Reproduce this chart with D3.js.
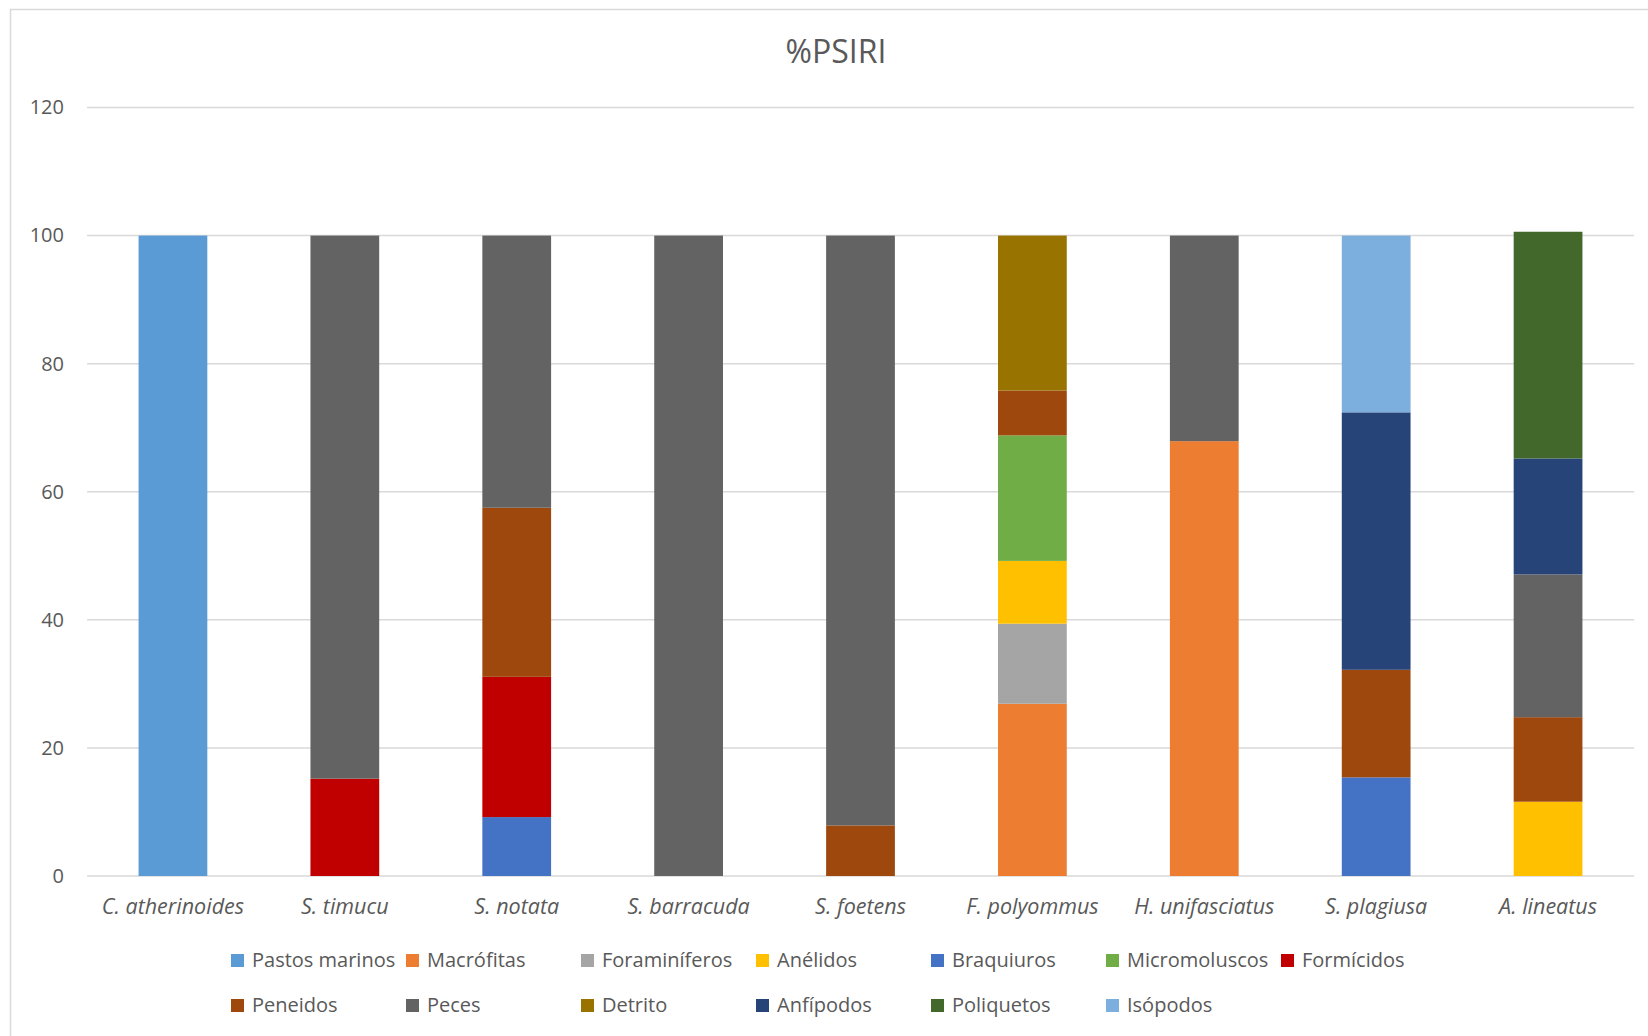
<!DOCTYPE html>
<html>
<head>
<meta charset="utf-8">
<script src="https://cdn.jsdelivr.net/npm/d3@7"></script>
<style>
  body { margin: 0; background: #fff; }
  svg { display: block; font-family: "Open Sans", Lato, sans-serif; }
</style>
</head>
<body>
<svg id="chart" width="1648" height="1036"></svg>
<script>
var species = ["C. atherinoides", "S. timucu", "S. notata", "S. barracuda", "S. foetens",
    "F. polyommus", "H. unifasciatus", "S. plagiusa", "A. lineatus"];

var preyNames = ["Pastos marinos", "Macrófitas", "Foraminíferos", "Anélidos", "Braquiuros",
    "Micromoluscos", "Formícidos", "Peneidos", "Peces", "Detrito", "Anfípodos",
    "Poliquetos", "Isópodos"];

var preyColors = ["#5b9bd5", "#ed7d31", "#a5a5a5", "#ffc000", "#4472c4", "#70ad47",
    "#c00000", "#9e480e", "#636363", "#997300", "#264478", "#43682b", "#7cafdd"];

// one array per prey item, values per species (same order as species)
var pastosMarinos = [100, 0, 0, 0, 0, 0, 0, 0, 0];
var macrofitas    = [0, 0, 0, 0, 0, 26.9, 67.9, 0, 0];
var foraminiferos = [0, 0, 0, 0, 0, 12.5, 0, 0, 0];
var anelidos      = [0, 0, 0, 0, 0, 9.8, 0, 0, 11.6];
var braquiuros    = [0, 0, 9.2, 0, 0, 0, 0, 15.4, 0];
var micromoluscos = [0, 0, 0, 0, 0, 19.6, 0, 0, 0];
var formicidos    = [0, 15.2, 21.9, 0, 0, 0, 0, 0, 0];
var peneidos      = [0, 0, 26.4, 0, 7.9, 7.0, 0, 16.8, 13.2];
var peces         = [0, 84.8, 42.5, 100, 92.1, 0, 32.1, 0, 22.3];
var detrito       = [0, 0, 0, 0, 0, 24.2, 0, 0, 0];
var anfipodos     = [0, 0, 0, 0, 0, 0, 0, 40.2, 18.1];
var poliquetos    = [0, 0, 0, 0, 0, 0, 0, 0, 35.4];
var isopodos      = [0, 0, 0, 0, 0, 0, 0, 27.6, 0];

var yTicks = [0, 20, 40, 60, 80, 100, 120];

var series = [pastosMarinos, macrofitas, foraminiferos, anelidos, braquiuros, micromoluscos,
    formicidos, peneidos, peces, detrito, anfipodos, poliquetos, isopodos];

var rows = species.map(function(s, i) {
    var r = {species: s};
    preyNames.forEach(function(p, j) { r[p] = series[j][i]; });
    return r;
});

var svg = d3.select("#chart");
var plotLeft = 87, plotRight = 1634, plotTop = 107.5, plotBottom = 876;
var textColor = "#595959";

// chart frame
svg.append("rect")
    .attr("x", 10.5).attr("y", 9.5)
    .attr("width", 1700).attr("height", 1100)
    .attr("fill", "none")
    .attr("stroke", "#d9d9d9")
    .attr("stroke-width", 1.5);

var x = d3.scaleBand()
    .domain(species)
    .range([plotLeft, plotRight])
    .paddingInner(0.6)
    .paddingOuter(0.3);

var y = d3.scaleLinear()
    .domain([0, 120])
    .range([plotBottom, plotTop]);

// gridlines
svg.append("g")
    .selectAll("line")
    .data(yTicks)
    .enter().append("line")
    .attr("x1", plotLeft).attr("x2", plotRight)
    .attr("y1", function(d) { return y(d); })
    .attr("y2", function(d) { return y(d); })
    .attr("stroke", "#d9d9d9")
    .attr("stroke-width", 1.5);

var yAxis = svg.append("g")
    .attr("transform", "translate(" + plotLeft + ",0)")
    .call(d3.axisLeft(y).tickValues(yTicks).tickSize(0).tickPadding(23));
yAxis.select(".domain").remove();
yAxis.selectAll("text")
    .attr("fill", textColor)
    .style("font-size", "20px")
    .style("font-family", "'Open Sans', sans-serif");

var stack = d3.stack().keys(preyNames);
var layers = stack(rows);

svg.append("g")
    .selectAll("g")
    .data(layers)
    .enter().append("g")
    .attr("fill", function(d, i) { return preyColors[i]; })
    .selectAll("rect")
    .data(function(d) { return d.filter(function(p) { return p[1] - p[0] > 0; }); })
    .enter().append("rect")
    .attr("x", function(d) { return x(d.data.species); })
    .attr("y", function(d) { return y(d[1]); })
    .attr("width", x.bandwidth())
    .attr("height", function(d) { return y(d[0]) - y(d[1]); });

// x axis
var xAxis = svg.append("g")
    .attr("transform", "translate(0," + plotBottom + ")")
    .call(d3.axisBottom(x).tickSize(0));
xAxis.select(".domain").remove();
xAxis.selectAll("text")
    .attr("dy", null)
    .attr("y", 38)
    .attr("fill", textColor)
    .style("font-size", "21.5px")
    .style("font-style", "italic")
    .style("font-family", "'Open Sans', sans-serif");

// title
svg.append("text")
    .attr("x", 836).attr("y", 63)
    .attr("text-anchor", "middle")
    .attr("fill", textColor)
    .style("font-size", "32px")
    .text("%PSIRI");

// legend
var legend = svg.append("g")
    .selectAll("g")
    .data(preyNames)
    .enter().append("g")
    .attr("transform", function(d, i) {
        return "translate(" + (231 + (i % 7) * 175) + "," + (954 + Math.floor(i / 7) * 45) + ")";
    });
legend.append("rect")
    .attr("width", 13).attr("height", 13)
    .attr("fill", function(d, i) { return preyColors[i]; });
legend.append("text")
    .attr("x", 21).attr("y", 13)
    .attr("fill", textColor)
    .style("font-size", "20px")
    .text(function(d) { return d; });
</script>
</body>
</html>
